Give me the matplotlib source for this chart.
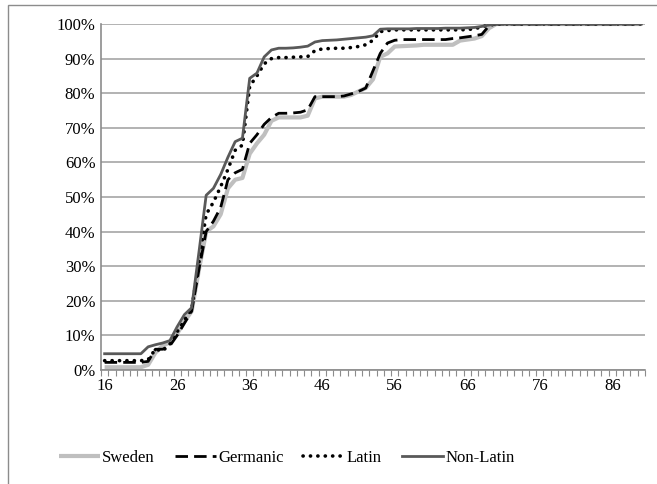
import matplotlib
matplotlib.use("Agg")
import matplotlib.pyplot as plt
from matplotlib.patches import Rectangle
from matplotlib.lines import Line2D
import numpy as np

plt.rcParams['font.family'] = ['Liberation Serif', 'DejaVu Serif']

ages = list(range(16, 91))
tick_labels = ['16', '26', '36', '46', '56', '66', '76', '86']
series_names = ['Sweden', 'Germanic', 'Latin', 'Non-Latin']

sweden = [
    0.8, 0.8, 0.8, 0.8, 0.8, 0.8,
    1.5, 5, 7, 8, 10.5, 14, 17, 29, 40,
    41.5, 45, 52.5, 55, 55.5, 62.5, 65.5, 68, 72, 73,
    73, 73, 73, 73.5, 78.5, 79, 79, 79, 79, 79.5,
    80.5, 81.5, 84, 90.5, 91.5, 93.5, 93.6, 93.7, 93.8, 94,
    94, 94, 94, 94, 95.2, 95.5, 95.8, 96.5, 98.8, 100,
    100, 100, 100, 100, 100, 100, 100, 100, 100, 100,
    100, 100, 100, 100, 100, 100, 100, 100, 100, 100]

germanic = [
    2.2, 2.2, 2.2, 2.2, 2.2, 2.2,
    2.5, 6, 6, 7, 10, 13.5, 17, 29, 40,
    43, 47, 55, 57, 58, 65.5, 68, 71, 73, 74.2,
    74.2, 74.3, 74.5, 75.2, 79, 79, 79, 79, 79.2, 79.8,
    80.5, 81.5, 86.5, 91.5, 94.5, 95.3, 95.5, 95.5, 95.5, 95.5,
    95.5, 95.5, 95.5, 95.8, 96, 96.3, 96.6, 97, 99.5, 100,
    100, 100, 100, 100, 100, 100, 100, 100, 100, 100,
    100, 100, 100, 100, 100, 100, 100, 100, 100, 100]

latin = [
    2.7, 2.7, 2.7, 2.7, 2.7, 2.7,
    3, 6, 5.5, 7.5, 11, 14.5, 17.5, 31, 45,
    48.5, 53, 58, 63.5, 65, 82, 85, 88.5, 90, 90.3,
    90.3, 90.4, 90.5, 90.6, 92.3, 92.8, 92.9, 93, 93, 93.2,
    93.5, 94, 95.3, 97.8, 98.1, 98.3, 98.3, 98.3, 98.3, 98.3,
    98.3, 98.3, 98.3, 98.3, 98.3, 98.4, 98.6, 99.2, 99.7, 100,
    100, 100, 100, 100, 100, 100, 100, 100, 100, 100,
    100, 100, 100, 100, 100, 100, 100, 100, 100, 100]

nonlatin = [
    4.7, 4.7, 4.7, 4.7, 4.7, 4.7,
    6.7, 7.3, 7.8, 8.5, 12.5, 16, 18, 34, 50.5,
    52.5, 56.5, 61.5, 66, 67, 84.3, 85.8, 90.5, 92.5, 93,
    93, 93.1, 93.3, 93.6, 94.8, 95.2, 95.3, 95.4, 95.6, 95.8,
    96, 96.2, 96.6, 98.5, 98.6, 98.6, 98.6, 98.6, 98.7, 98.7,
    98.7, 98.7, 98.8, 98.8, 98.8, 98.9, 99, 99.3, 99.7, 100,
    100, 100, 100, 100, 100, 100, 100, 100, 100, 100,
    100, 100, 100, 100, 100, 100, 100, 100, 100, 100]

W, H = 657, 484
fig = plt.figure(figsize=(W / 100, H / 100), dpi=100)
fig.patch.set_facecolor('white')

# chart border (top and left visible)
fig.patches.append(Rectangle((8 / W, -0.1), 1.2, 1.1 - 5 / H + 0.0, transform=fig.transFigure,
                             fill=False, edgecolor='#8c8c8c', lw=1.0, zorder=0))

ax = fig.add_axes([101 / W, 1 - 370 / H, (645 - 101) / W, (370 - 24) / H])

styles = [
    dict(color='#bfbfbf', lw=3.0, linestyle='-', solid_capstyle='butt'),
    dict(color='#000000', lw=2.0, linestyle=(0, (4.5, 2.2))),
    dict(color='#000000', lw=2.6, linestyle=(0, (0.05, 2.0)), dash_capstyle='round'),
    dict(color='#595959', lw=2.0, linestyle='-'),
]
for name, vals, st in zip(series_names, [sweden, germanic, latin, nonlatin], styles):
    ax.plot(ages, vals, label=name, **st)

ax.set_xlim(15.5, 90.5)
ax.set_ylim(0, 100)
ax.set_yticks(np.arange(0, 101, 10))
ax.set_yticklabels([f'{v}%' for v in range(0, 101, 10)], fontsize=12)
ax.yaxis.grid(True, color='#a6a6a6', lw=1.2)
ax.set_axisbelow(True)
ax.tick_params(axis='y', length=0, pad=4)

ax.set_xticks(np.arange(15.5, 91, 1))
ax.set_xticklabels([])
ax.tick_params(axis='x', which='major', length=4, color='#8c8c8c', direction='out')
ax.set_xticks([16, 26, 36, 46, 56, 66, 76, 86], minor=True)
ax.set_xticklabels(tick_labels, minor=True, fontsize=12)
ax.tick_params(axis='x', which='minor', length=0, pad=6)

for s in ['top', 'right']:
    ax.spines[s].set_visible(False)
for s in ['left', 'bottom']:
    ax.spines[s].set_color('#8c8c8c')
    ax.spines[s].set_linewidth(1.2)

handles, labels = ax.get_legend_handles_labels()
fig.legend(handles, labels, loc='center left', bbox_to_anchor=(52 / W, 1 - 458 / H),
           ncol=4, frameon=False, fontsize=12, handlelength=2.5, handletextpad=0.1,
           columnspacing=1.2, borderaxespad=0)

fig.savefig('out.png', dpi=100, facecolor='white')
